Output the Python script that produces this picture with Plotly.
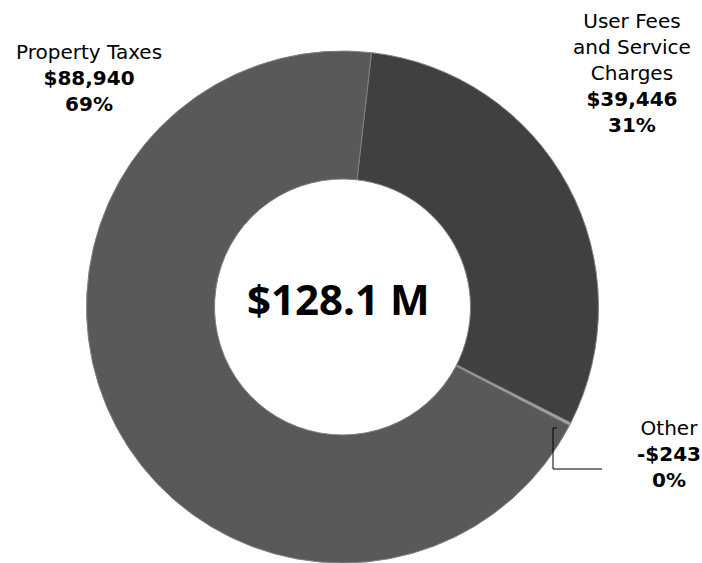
import plotly.graph_objects as go

# Data
categories = ["User Fees and Service Charges", "Other", "Property Taxes"]
values = [39446, -243, 88940]          # $ thousands
percents = ["31%", "0%", "69%"]
colors = ["#404040", "#a6a6a6", "#595959"]
total_label = "$128.1 M"

W, H = 702, 563

def px(x):
    return x / W

def py(y):
    return 1 - y / H

fig = go.Figure()
fig.add_trace(go.Pie(
    labels=categories,
    values=[abs(v) for v in values],   # chart draws the magnitude of each slice
    hole=0.5,
    sort=False,
    direction="clockwise",
    rotation=6.5,
    marker=dict(colors=colors, line=dict(color="#808080", width=1)),
    textinfo="none",
    hoverinfo="label+value",
    showlegend=False,
    domain=dict(x=[px(86.5), px(598.5)], y=[0, 512 / H]),
))

def money(v):
    s = f"${abs(v):,}"
    return ("-" if v < 0 else "") + s

label_font = dict(family="DejaVu Sans", size=20, color="#000000")

blocks = [
    # (label lines, value index, center x px, top y px)
    ("Property Taxes", 2, 89, 38),
    ("User Fees<br>and Service<br>Charges", 0, 632, 7),
    ("Other", 1, 669, 414),
]
for text, i, cx, top in blocks:
    fig.add_annotation(
        xref="paper", yref="paper",
        x=px(cx), y=py(top),
        xanchor="center", yanchor="top",
        text=f"{text}<br><b>{money(values[i])}</b><br><b>{percents[i]}</b>",
        showarrow=False, align="center",
        font=label_font,
    )

# centre total
fig.add_annotation(
    xref="paper", yref="paper",
    x=px(338), y=py(298),
    xanchor="center", yanchor="middle",
    text=f"<b>{total_label}</b>",
    showarrow=False,
    font=dict(family="Open Sans", size=42, color="#000000"),
)

# leader line for "Other"
fig.add_shape(
    type="path", xref="paper", yref="paper",
    path=(f"M {px(557)},{py(428)} L {px(553)},{py(428)} "
          f"L {px(553)},{py(469)} L {px(602)},{py(469)}"),
    line=dict(color="#000000", width=1),
)

fig.update_layout(
    width=W, height=H,
    margin=dict(l=0, r=0, t=0, b=0),
    paper_bgcolor="#ffffff",
    plot_bgcolor="#ffffff",
)

div = fig.to_html(full_html=False, include_plotlyjs=True,
                  config={"displayModeBar": False})
html = ("<!DOCTYPE html><html><head><meta charset='utf-8'>"
        "<style>html,body{margin:0;padding:0;overflow:hidden;background:#fff;}</style>"
        "</head><body>" + div + "</body></html>")
with open("out.html", "w", encoding="utf-8") as f:
    f.write(html)
